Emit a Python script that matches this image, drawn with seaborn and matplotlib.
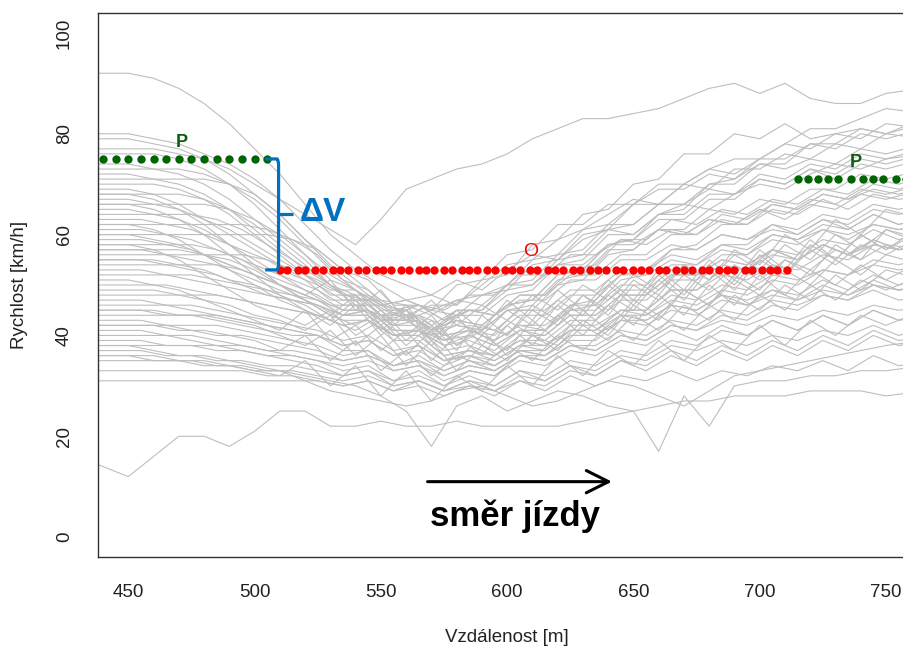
import numpy as np
import pandas as pd
import seaborn as sns
import matplotlib
matplotlib.use("Agg")
import matplotlib.pyplot as plt
from matplotlib.path import Path
from matplotlib.patches import PathPatch

# Distance grids of the speed profiles [m] (two logger sampling offsets)
distance = [435, 450, 460, 470, 480, 490, 500, 510, 520, 530, 540, 550, 560,
            570, 580, 590, 600, 610, 620, 630, 640, 650, 660, 670, 680, 690,
            700, 710, 720, 730, 740, 750, 765]
distance_shifted = [435, 455, 465, 475, 485, 495, 505, 515, 525, 535, 545, 555,
                    565, 575, 585, 595, 605, 615, 625, 635, 645, 655, 665, 675,
                    685, 695, 705, 715, 725, 735, 745, 755, 770]

# Speed profiles [km/h] of individual vehicles, grouped by entry speed
fast_runs = [
    [92, 92, 91, 89, 86, 82, 77, 72, 66, 60, 56, 52, 50, 48, 51, 49, 53, 56, 55, 59, 61, 60, 64, 66, 65, 68, 70, 69, 72, 74, 73, 75, 76],
    [80, 80, 79, 78, 76, 74, 71, 67, 62, 57, 53, 50, 47, 48, 46, 50, 54, 55, 59, 61, 64, 67, 66, 70, 73, 72, 75, 78, 77, 80, 81, 80, 83],
    [79, 79, 78, 77, 75, 73, 70, 67, 64, 61, 58, 63, 69, 71, 73, 74, 76, 79, 81, 83, 83, 84, 85, 87, 89, 90, 88, 90, 87, 86, 86, 88, 89],
    [77, 77, 77, 76, 75, 72, 68, 64, 59, 55, 51, 47, 46, 44, 47, 48, 50, 55, 56, 61, 62, 66, 70, 70, 73, 75, 75, 78, 81, 81, 83, 85, 84],
    [76, 76, 76, 75, 73, 70, 66, 61, 56, 52, 49, 46, 47, 45, 50, 51, 56, 57, 62, 62, 66, 66, 69, 69, 72, 71, 74, 73, 75, 74, 77, 76, 78],
    [74, 74, 73, 72, 70, 67, 63, 59, 55, 50, 48, 44, 44, 41, 45, 45, 50, 51, 56, 57, 62, 62, 66, 66, 69, 68, 71, 70, 73, 72, 75, 74, 76],
    [73, 73, 73, 73, 72, 70, 67, 63, 58, 53, 49, 45, 45, 41, 43, 42, 46, 47, 52, 53, 58, 59, 63, 63, 67, 67, 71, 70, 73, 71, 74, 73, 75],
    [72, 72, 71, 70, 68, 65, 61, 57, 53, 50, 47, 47, 44, 46, 46, 51, 52, 58, 59, 64, 65, 70, 71, 76, 76, 80, 79, 82, 79, 80, 79, 82, 81],
    [71, 71, 71, 71, 71, 70, 68, 64, 59, 54, 50, 46, 45, 41, 42, 41, 45, 45, 50, 51, 56, 57, 61, 61, 65, 64, 67, 66, 69, 69, 72, 71, 73],
    [70, 70, 70, 69, 67, 64, 60, 56, 52, 48, 48, 44, 45, 42, 45, 45, 49, 50, 55, 56, 61, 62, 66, 66, 70, 70, 74, 74, 78, 78, 81, 80, 82],
    [69, 69, 68, 66, 63, 60, 57, 54, 51, 47, 47, 43, 43, 40, 42, 41, 45, 46, 51, 52, 57, 57, 61, 60, 63, 62, 65, 64, 67, 66, 69, 68, 70],
    [68, 68, 68, 68, 67, 65, 62, 58, 54, 50, 46, 46, 43, 45, 44, 48, 49, 54, 55, 60, 61, 66, 66, 70, 69, 73, 73, 76, 75, 78, 77, 80, 79],
    [67, 67, 66, 65, 63, 61, 58, 55, 52, 49, 49, 46, 47, 45, 47, 46, 50, 50, 54, 54, 58, 58, 61, 60, 63, 62, 65, 63, 66, 65, 68, 67, 69],
    [66, 66, 66, 66, 66, 65, 63, 60, 56, 51, 49, 44, 44, 41, 43, 42, 46, 47, 52, 53, 58, 59, 64, 65, 70, 71, 75, 75, 78, 77, 80, 79, 81],
    [65, 65, 64, 63, 61, 58, 55, 52, 49, 46, 46, 43, 44, 41, 44, 44, 48, 49, 54, 55, 60, 60, 64, 64, 68, 68, 72, 71, 74, 73, 76, 75, 77],
]

medium_runs = [
    [64, 64, 64, 64, 63, 61, 58, 55, 52, 48, 47, 43, 43, 39, 40, 38, 41, 41, 45, 46, 51, 52, 57, 58, 62, 62, 66, 65, 68, 67, 69, 68, 70],
    [63, 63, 62, 61, 59, 57, 55, 52, 50, 47, 47, 44, 46, 45, 48, 48, 52, 52, 56, 56, 59, 58, 61, 60, 63, 62, 65, 64, 67, 65, 68, 67, 68],
    [62, 62, 62, 62, 62, 62, 61, 59, 56, 51, 49, 44, 44, 40, 41, 39, 42, 42, 46, 46, 50, 50, 54, 54, 58, 58, 62, 61, 64, 63, 66, 65, 67],
    [61, 61, 60, 59, 57, 55, 53, 51, 49, 46, 46, 42, 42, 39, 41, 40, 44, 44, 48, 48, 52, 52, 55, 54, 57, 56, 59, 58, 61, 59, 62, 61, 62],
    [60, 60, 60, 60, 60, 60, 60, 59, 57, 53, 51, 46, 46, 43, 45, 44, 48, 48, 53, 54, 59, 59, 63, 62, 65, 64, 67, 66, 69, 68, 71, 70, 72],
    [59, 59, 58, 57, 55, 53, 51, 49, 47, 44, 44, 40, 40, 36, 37, 36, 40, 40, 44, 44, 48, 48, 52, 52, 56, 56, 60, 59, 62, 61, 64, 62, 64],
    [58, 58, 58, 58, 57, 55, 52, 50, 48, 45, 45, 41, 41, 38, 39, 37, 41, 41, 46, 47, 52, 53, 57, 57, 60, 59, 62, 60, 63, 61, 64, 62, 64],
    [57, 57, 56, 55, 54, 52, 50, 48, 46, 43, 43, 39, 39, 35, 36, 34, 37, 37, 41, 41, 45, 45, 49, 49, 53, 53, 57, 56, 59, 58, 61, 59, 61],
    [56, 56, 56, 56, 56, 56, 55, 53, 51, 48, 48, 45, 46, 43, 45, 44, 47, 47, 51, 51, 55, 55, 58, 57, 60, 59, 61, 60, 63, 62, 65, 64, 66],
    [55, 55, 54, 53, 52, 50, 48, 47, 46, 44, 45, 42, 43, 40, 41, 39, 42, 41, 45, 45, 49, 49, 53, 52, 55, 54, 57, 55, 58, 56, 59, 57, 58],
    [54, 54, 54, 54, 54, 53, 51, 49, 47, 44, 44, 40, 40, 36, 37, 35, 38, 37, 41, 41, 45, 45, 49, 49, 52, 51, 54, 53, 56, 55, 58, 57, 59],
    [53, 53, 52, 51, 50, 49, 48, 47, 46, 44, 45, 43, 44, 42, 45, 44, 48, 48, 52, 52, 56, 56, 60, 60, 64, 63, 66, 65, 68, 67, 70, 69, 71],
    [52, 52, 52, 52, 51, 50, 49, 48, 47, 45, 45, 41, 41, 37, 38, 36, 39, 39, 43, 43, 47, 47, 51, 51, 54, 53, 56, 55, 58, 56, 59, 57, 58],
    [50, 50, 50, 49, 48, 47, 46, 45, 44, 42, 43, 40, 41, 39, 42, 41, 45, 45, 49, 49, 53, 53, 56, 55, 58, 57, 60, 59, 61, 60, 62, 61, 62],
    [48, 48, 48, 48, 48, 47, 46, 45, 44, 42, 43, 40, 41, 38, 40, 38, 41, 40, 44, 44, 48, 48, 52, 52, 55, 54, 57, 55, 58, 56, 58, 57, 58],
]

mixed_runs = [
    [58, 58, 57, 55, 52, 49, 46, 44, 42, 45, 40, 43, 38, 42, 37, 44, 40, 46, 43, 48, 44, 50, 47, 52, 49, 54, 51, 55, 53, 57, 55, 58, 57],
    [55, 55, 55, 54, 53, 51, 50, 48, 46, 43, 47, 41, 45, 39, 44, 38, 43, 40, 46, 42, 48, 45, 51, 47, 53, 49, 55, 52, 57, 54, 58, 56, 60],
    [51, 51, 50, 49, 47, 46, 44, 43, 41, 44, 38, 42, 36, 41, 35, 40, 37, 43, 39, 45, 41, 47, 44, 49, 46, 51, 48, 53, 50, 55, 52, 56, 54],
    [62, 62, 61, 59, 56, 53, 50, 47, 45, 42, 46, 40, 44, 38, 43, 40, 45, 42, 47, 44, 50, 46, 52, 48, 54, 50, 56, 52, 58, 55, 60, 57, 61],
    [49, 49, 49, 48, 47, 45, 43, 41, 45, 39, 42, 37, 41, 35, 40, 36, 42, 38, 44, 40, 46, 42, 48, 44, 50, 46, 52, 48, 53, 50, 54, 51, 55],
    [66, 66, 65, 63, 60, 56, 52, 48, 45, 43, 41, 44, 39, 43, 38, 41, 36, 40, 38, 43, 40, 46, 43, 49, 46, 52, 49, 55, 52, 58, 55, 61, 58],
    [45, 45, 45, 44, 44, 43, 42, 40, 38, 41, 36, 40, 34, 39, 33, 38, 35, 40, 37, 42, 39, 44, 41, 46, 43, 48, 45, 50, 47, 52, 49, 53, 51],
    [57, 57, 57, 57, 56, 55, 53, 50, 47, 44, 48, 42, 46, 40, 45, 41, 47, 43, 49, 45, 51, 47, 53, 49, 55, 51, 57, 53, 59, 55, 60, 57, 62],
    [36, 36, 36, 35, 35, 34, 33, 32, 35, 30, 34, 28, 33, 27, 32, 29, 34, 30, 36, 32, 37, 34, 39, 35, 40, 37, 42, 38, 43, 40, 44, 42, 45],
    [68, 68, 67, 65, 62, 58, 54, 50, 47, 44, 42, 45, 40, 44, 38, 42, 40, 45, 42, 48, 45, 51, 48, 54, 51, 57, 54, 60, 57, 63, 60, 65, 63],
    [60, 60, 59, 58, 56, 54, 52, 50, 48, 51, 45, 49, 43, 47, 42, 46, 43, 48, 45, 50, 47, 52, 49, 54, 51, 56, 53, 58, 55, 60, 57, 61, 59],
    [42, 42, 42, 41, 41, 40, 39, 37, 40, 35, 39, 33, 37, 32, 36, 34, 38, 35, 40, 37, 42, 39, 44, 41, 46, 43, 48, 45, 50, 47, 51, 49, 52],
]

slow_runs = [
    [47, 47, 46, 45, 44, 43, 42, 41, 40, 38, 39, 36, 37, 34, 36, 35, 38, 38, 42, 42, 45, 44, 47, 46, 49, 48, 51, 50, 53, 52, 55, 54, 56],
    [46, 46, 46, 46, 45, 44, 43, 42, 41, 39, 40, 37, 38, 35, 36, 34, 37, 36, 39, 39, 43, 43, 46, 45, 48, 47, 49, 48, 51, 49, 52, 50, 52],
    [45, 45, 44, 44, 43, 42, 41, 40, 40, 38, 39, 36, 38, 35, 37, 36, 39, 38, 41, 41, 44, 43, 46, 45, 48, 46, 49, 47, 50, 48, 51, 49, 50],
    [44, 44, 44, 44, 44, 43, 42, 41, 40, 37, 37, 33, 34, 31, 33, 32, 36, 36, 40, 40, 44, 44, 48, 47, 50, 49, 52, 51, 53, 52, 54, 53, 54],
    [43, 43, 42, 41, 40, 40, 39, 38, 37, 35, 36, 34, 35, 33, 35, 34, 37, 36, 40, 40, 43, 42, 45, 44, 47, 46, 48, 47, 49, 48, 50, 49, 50],
    [42, 42, 42, 42, 42, 41, 40, 39, 38, 36, 37, 34, 35, 32, 34, 33, 36, 35, 38, 38, 41, 40, 43, 42, 45, 44, 47, 46, 48, 47, 49, 47, 48],
    [41, 41, 40, 39, 38, 38, 37, 37, 36, 35, 36, 34, 36, 33, 35, 33, 36, 35, 38, 37, 40, 39, 42, 41, 43, 42, 44, 43, 45, 44, 46, 45, 46],
    [40, 40, 40, 40, 39, 38, 37, 36, 35, 33, 34, 31, 32, 30, 33, 32, 35, 34, 37, 36, 39, 38, 41, 39, 42, 40, 43, 41, 44, 42, 45, 43, 45],
    [39, 39, 38, 38, 37, 37, 36, 36, 35, 34, 35, 33, 34, 32, 34, 33, 36, 35, 38, 37, 40, 39, 42, 41, 44, 43, 46, 45, 48, 47, 50, 49, 51],
    [38, 38, 38, 38, 38, 37, 36, 35, 34, 32, 33, 30, 31, 29, 31, 30, 33, 32, 35, 34, 37, 36, 39, 38, 41, 40, 43, 41, 44, 42, 45, 43, 44],
    [37, 37, 36, 36, 35, 35, 34, 34, 33, 32, 33, 31, 33, 30, 32, 30, 33, 31, 34, 33, 36, 35, 38, 37, 39, 38, 40, 39, 41, 40, 42, 40, 42],
    [35, 35, 35, 35, 34, 34, 33, 33, 32, 31, 32, 30, 31, 29, 30, 28, 31, 30, 33, 32, 35, 34, 37, 35, 38, 36, 39, 37, 40, 38, 41, 39, 40],
    [33, 33, 33, 33, 33, 33, 32, 32, 31, 30, 31, 29, 30, 28, 30, 29, 32, 31, 34, 32, 35, 33, 36, 34, 37, 35, 38, 36, 39, 37, 40, 38, 39],
    [31, 31, 31, 31, 31, 31, 31, 31, 31, 30, 31, 29, 31, 29, 31, 29, 31, 29, 32, 30, 32, 31, 33, 31, 33, 32, 34, 33, 35, 33, 36, 34, 35],
]

crawl_runs = [
    [15, 12, 16, 20, 20, 18, 21, 25, 25, 22, 22, 23, 22, 22, 23, 22, 22, 22, 22, 23, 24, 25, 26, 27, 27, 28, 28, 28, 29, 29, 29, 28, 29],
    [36, 36, 35, 35, 34, 34, 33, 33, 32, 31, 30, 28, 25, 18, 26, 28, 25, 27, 29, 28, 26, 25, 17, 28, 22, 30, 31, 31, 32, 32, 33, 33, 34],
    [38, 38, 37, 36, 36, 35, 34, 33, 31, 29, 28, 27, 26, 27, 29, 30, 28, 26, 27, 29, 31, 30, 28, 26, 29, 32, 33, 34, 35, 36, 37, 38, 39],
]

# Reference speeds: approach speed P before the curve, curve speed O
p_left_level = 75
p_left_dist = [440, 445, 450, 455, 460, 465, 470, 475, 480, 485, 490, 495, 500, 505]
o_level = 53
o_dist = [510, 513, 517, 520, 524, 527, 531, 534, 537, 541, 544, 548, 551, 554,
          558, 561, 565, 568, 571, 575, 578, 582, 585, 588, 592, 595, 599, 602,
          605, 609, 612, 616, 619, 622, 626, 629, 633, 636, 639, 643, 646, 650,
          653, 656, 660, 663, 667, 670, 673, 677, 680, 684, 687, 690, 694, 697,
          701, 704, 707, 711]
p_right_level = 71
p_right_dist = [715, 719, 723, 727, 731, 736, 741, 745, 749, 754, 758, 762]

x_ticks = [450, 500, 550, 600, 650, 700, 750]
y_ticks = [0, 20, 40, 60, 80, 100]

# Long-form table of all profiles, each group on its own sampling grid
rows = []
run_id = 0
for group, grid in ((fast_runs, distance), (medium_runs, distance_shifted),
                    (mixed_runs, distance), (slow_runs, distance_shifted),
                    (crawl_runs, distance)):
    for run in group:
        for d, v in zip(grid, run):
            rows.append((run_id, d, v))
        run_id += 1
profiles = pd.DataFrame(rows, columns=["run", "distance", "speed"])

sns.set_theme(style="white")
plt.rcParams["font.family"] = ["Liberation Sans", "DejaVu Sans"]

fig = plt.figure(figsize=(9.04, 6.49), dpi=100)
ax = fig.add_axes([0.1084, 0.1413, 0.9052, 0.8391])

sns.lineplot(data=profiles, x="distance", y="speed", units="run",
             estimator=None, color="#BEBEBE", linewidth=0.8, ax=ax,
             legend=False, sort=False)

dot_kw = dict(linestyle="none", marker="o", markersize=6.0,
              markeredgewidth=0, zorder=5, clip_on=True)
ax.plot(p_left_dist, [p_left_level] * len(p_left_dist), color="#006400", **dot_kw)
ax.plot(o_dist, [o_level] * len(o_dist), color="#FF0000", **dot_kw)
ax.plot(p_right_dist, [p_right_level] * len(p_right_dist), color="#006400", **dot_kw)

ax.text(471.3, 78.3, "P", color="#0B5E0B", fontsize=13, fontweight="bold",
        ha="center", va="center", zorder=6)
ax.text(738.1, 74.3, "P", color="#0B5E0B", fontsize=13, fontweight="bold",
        ha="center", va="center", zorder=6)
ax.text(609.5, 56.6, "O", color="#FF0000", fontsize=14,
        ha="center", va="center", zorder=6)

# Curly bracket marking the speed drop between P and O
bx, bl, br = 509.5, 504.2, 515.2
mid = (p_left_level + o_level) / 2
blue = "#0070C0"
verts = [(bl, p_left_level), (bx - 0.6, p_left_level), (bx, p_left_level - 0.3),
         (bx, p_left_level - 1.2), (bx, o_level + 1.2),
         (bx, o_level + 0.3), (bx - 0.6, o_level), (bl, o_level)]
codes = [Path.MOVETO, Path.LINETO, Path.CURVE3, Path.CURVE3, Path.LINETO,
         Path.CURVE3, Path.CURVE3, Path.LINETO]
ax.add_patch(PathPatch(Path(verts, codes), facecolor="none", edgecolor=blue,
                       linewidth=2.3, capstyle="butt", zorder=6))
ax.plot([bx, br], [mid, mid], color=blue, linewidth=2.3, zorder=6,
        solid_capstyle="butt")
ax.text(517.8, mid + 0.4, "ΔV", color=blue, fontsize=24, fontweight="bold",
        ha="left", va="center", zorder=6)

# Direction of travel
ax.annotate("", xy=(641.5, 11.0), xytext=(568.5, 11.0),
            arrowprops=dict(arrowstyle="->,head_length=1.6,head_width=0.8",
                            mutation_scale=10, color="black", linewidth=2.2,
                            shrinkA=0, shrinkB=0))
ax.text(603.0, 2.3, "směr jízdy", color="black", fontsize=25,
        fontweight="bold", ha="center", va="baseline")

ax.set_xlim(438, 762)
ax.set_ylim(-4, 104)
ax.set_xticks(x_ticks)
ax.set_yticks(y_ticks)
ax.set_xticklabels([str(t) for t in x_ticks])
ax.set_yticklabels([str(t) for t in y_ticks], rotation=90, va="center")
ax.tick_params(axis="both", direction="out", length=8, width=0.9,
               color="#222222", labelsize=13.5, labelcolor="#222222")
ax.tick_params(axis="x", pad=11)
ax.tick_params(axis="y", pad=10)
for side in ("left", "bottom", "top", "right"):
    ax.spines[side].set_color("#333333")
    ax.spines[side].set_linewidth(1.0)
ax.set_xlabel("")
ax.set_ylabel("")
ax.grid(False)

fig.text(507 / 904, 1 - 637 / 649, "Vzdálenost [m]", fontsize=13.5,
         color="#222222", ha="center", va="center")
fig.text(20 / 904, 1 - 285 / 649, "Rychlost [km/h]", fontsize=13.5,
         color="#222222", ha="center", va="center", rotation=90)

fig.savefig("out.png", dpi=100)
